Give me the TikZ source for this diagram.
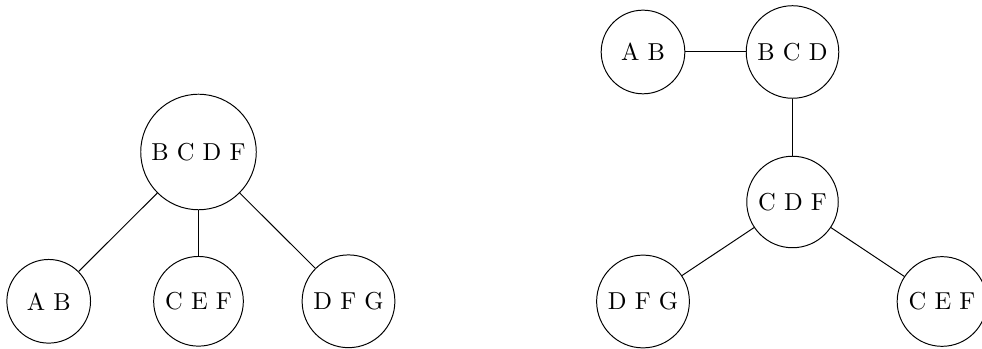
\documentclass[tikz,border=0pt]{standalone}
\begin{document}
\begin{tikzpicture}[x=0.40816pt,y=-0.40816pt,
  cl/.style={circle,draw,minimum size=1.2cm,inner sep=0.3333em}]
\useasboundingbox (0,0) rectangle (982,349);
% left tree
\node[cl] (l1) at (198.5,152) {B C D F};
\node[cl] (l2) at (48.7,301.3) {A B};
\node[cl] (l3) at (198.5,301.3) {C E F};
\node[cl] (l4) at (348.5,301.3) {D F G};
\draw (l1) -- (l2);
\draw (l1) -- (l3);
\draw (l1) -- (l4);
% right tree
\node[cl] (r1) at (643,52) {A B};
\node[cl] (r2) at (792.5,52) {B C D};
\node[cl] (r3) at (792.5,202) {C D F};
\node[cl] (r4) at (643,301.5) {D F G};
\node[cl] (r5) at (942,301.5) {C E F};
\draw (r1) -- (r2);
\draw (r2) -- (r3);
\draw (r3) -- (r4);
\draw (r3) -- (r5);
\end{tikzpicture}
\end{document}
